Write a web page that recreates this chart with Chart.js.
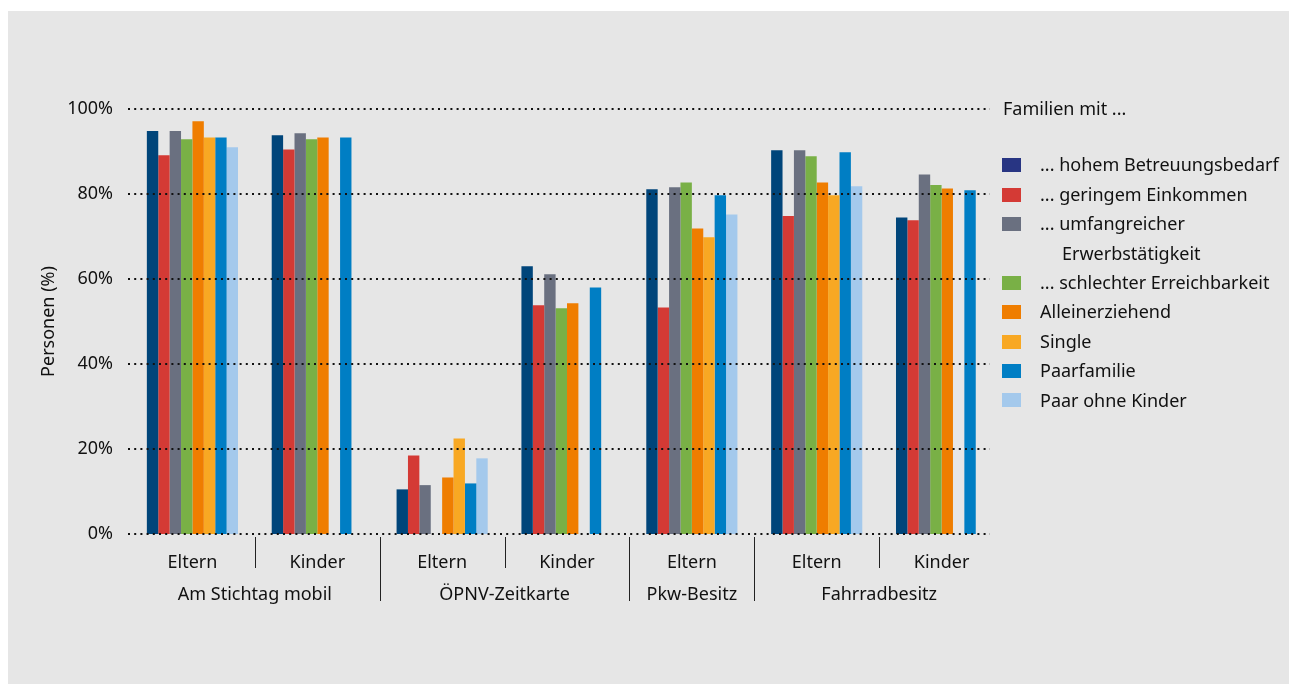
<!DOCTYPE html>
<html lang="de">
<head>
<meta charset="utf-8">
<title>Mobilität von Familien</title>
<script src="https://cdn.jsdelivr.net/npm/chart.js@4.4.1/dist/chart.umd.min.js"></script>
<style>
    html, body { margin: 0; padding: 0; background: #fff; }
    body { width: 1289px; height: 684px; position: relative; overflow: hidden; font-family: "Noto Sans", sans-serif; color: #111; }
    .panel { position: absolute; left: 8px; top: 11px; right: 0; bottom: 0; background: #e6e6e6; }
    .chart-box { position: absolute; left: 0; top: 0; width: 1289px; height: 684px; }
    .legend { position: absolute; left: 1002px; top: 94px; font-size: 18px; line-height: 29.4px; }
    .legend .title { margin: 0 0 27px 1px; }
    .legend ul { list-style: none; margin: 0; padding: 0; }
    .legend li { position: relative; padding-left: 38px; white-space: nowrap; }
    .legend .box { position: absolute; left: 0; top: 7.7px; width: 19px; height: 14px; }
    .legend .more { display: block; padding-left: 22px; }
</style>
</head>
<body>
<div class="panel"></div>
<div class="chart-box"><canvas id="mobilChart"></canvas></div>
<div class="legend">
    <div class="title">Familien mit ...</div>
    <ul id="legendList"></ul>
</div>
<script>
// Kategorien (untere Achse) und Gruppen darunter
const categories = ["Eltern", "Kinder", "Eltern", "Kinder", "Eltern", "Eltern", "Kinder"];
const groupLabels = ["Am Stichtag mobil", "ÖPNV-Zeitkarte", "Pkw-Besitz", "Fahrradbesitz"];
const groupSizes = [2, 2, 1, 2];

// Werte in Prozent, null = kein Balken
const betreuung = [94.8, 93.8, 10.5, 63.0, 81.1, 90.3, 74.5];
const einkommen = [89.1, 90.5, 18.5, 53.8, 53.3, 74.8, 73.8];
const erwerb = [94.8, 94.3, 11.5, 61.1, 81.6, 90.3, 84.6];
const erreichbarkeit = [92.9, 92.9, null, 53.1, 82.7, 88.9, 82.1];
const alleinerziehend = [97.1, 93.3, 13.3, 54.3, 71.9, 82.7, 81.3];
const single = [93.3, null, 22.5, null, 69.8, 79.7, null];
const paarfamilie = [93.3, 93.3, 11.9, 58.0, 79.7, 89.8, 80.9];
const paarOhneKinder = [91.0, null, 17.8, null, 75.2, 81.8, null];

const seriesLabels = [
    ["... hohem Betreuungsbedarf"],
    ["... geringem Einkommen"],
    ["... umfangreicher", "Erwerbstätigkeit"],
    ["... schlechter Erreichbarkeit"],
    ["Alleinerziehend"],
    ["Single"],
    ["Paarfamilie"],
    ["Paar ohne Kinder"]
];
const seriesValues = [betreuung, einkommen, erwerb, erreichbarkeit, alleinerziehend, single, paarfamilie, paarOhneKinder];
const barColors = ["#00457a", "#d43a35", "#6a7080", "#79b046", "#ef7d00", "#f8a823", "#007ec4", "#a4c9ec"];
const legendColors = ["#283583", "#d43a35", "#6a7080", "#79b046", "#ef7d00", "#f8a823", "#007ec4", "#a4c9ec"];

const yMin = 0;
const yMax = 100;
const yStep = 20;

const textColor = "#111";
const fontFamily = "'Noto Sans', sans-serif";

Chart.defaults.font.family = fontFamily;
Chart.defaults.font.size = 18;
Chart.defaults.color = textColor;

// Legende als HTML
const legendList = document.getElementById("legendList");
seriesLabels.forEach(function (lines, i) {
    const li = document.createElement("li");
    const box = document.createElement("span");
    box.className = "box";
    box.style.background = legendColors[i];
    li.appendChild(box);
    li.appendChild(document.createTextNode(lines[0]));
    if (lines.length > 1) {
        const more = document.createElement("span");
        more.className = "more";
        more.textContent = lines[1];
        li.appendChild(more);
    }
    legendList.appendChild(li);
});

// gepunktete Linien, Trennstriche und Gruppenbeschriftung
const axisDecor = {
    id: "axisDecor",
    afterDatasetsDraw(chart) {
        const { ctx, chartArea, scales } = chart;
        const x = scales.x;
        const y = scales.y;

        ctx.save();
        ctx.strokeStyle = "#111";
        ctx.lineWidth = 2;
        ctx.setLineDash([2, 4.2]);
        y.ticks.forEach(function (tick) {
            const py = Math.round(y.getPixelForValue(tick.value));
            ctx.beginPath();
            ctx.moveTo(chartArea.left - 2, py);
            ctx.lineTo(x.right - 14, py);
            ctx.stroke();
        });
        ctx.restore();
    },
    afterDraw(chart) {
        const { ctx, chartArea, scales } = chart;
        const x = scales.x;
        const top = chartArea.bottom + 3;

        const boundaries = [];
        let acc = 0;
        groupSizes.forEach(function (size) {
            acc += size;
            boundaries.push(acc);
        });

        ctx.save();
        ctx.strokeStyle = "#222";
        ctx.lineWidth = 1;
        for (let i = 1; i < categories.length; i++) {
            const px = Math.round((x.getPixelForValue(i - 1) + x.getPixelForValue(i)) / 2) + 0.5;
            const isGroupEdge = boundaries.indexOf(i) !== -1;
            ctx.beginPath();
            ctx.moveTo(px, top);
            ctx.lineTo(px, isGroupEdge ? top + 64 : top + 31);
            ctx.stroke();
        }

        ctx.fillStyle = textColor;
        ctx.font = "18px " + fontFamily;
        ctx.textAlign = "center";
        ctx.textBaseline = "middle";
        let start = 0;
        groupLabels.forEach(function (label, g) {
            const end = start + groupSizes[g] - 1;
            const cx = (x.getPixelForValue(start) + x.getPixelForValue(end)) / 2;
            ctx.fillText(label, cx, chartArea.bottom + 61);
            start = end + 1;
        });
        ctx.restore();
    }
};

new Chart(document.getElementById("mobilChart"), {
    type: "bar",
    data: {
        labels: categories,
        datasets: seriesValues.map(function (values, i) {
            return {
                label: seriesLabels[i].join(" "),
                data: values,
                backgroundColor: barColors[i],
                borderWidth: 0
            };
        })
    },
    options: {
        responsive: true,
        maintainAspectRatio: false,
        animation: false,
        layout: { padding: { left: 38, top: 109, right: 285, bottom: 40 } },
        datasets: {
            bar: { barPercentage: 1, categoryPercentage: 0.73 }
        },
        plugins: {
            legend: { display: false },
            tooltip: { enabled: false }
        },
        scales: {
            x: {
                grid: { display: false },
                border: { display: false },
                ticks: { padding: 10, color: textColor },
                afterFit: function (scale) { scale.height = 110; }
            },
            y: {
                min: yMin,
                max: yMax,
                grid: { display: false },
                border: { display: false },
                ticks: {
                    stepSize: yStep,
                    padding: 9,
                    color: textColor,
                    callback: function (value) { return value + "%"; }
                },
                title: { display: true, text: "Personen (%)", color: textColor, padding: 0 },
                afterFit: function (scale) { scale.width = 92; }
            }
        }
    },
    plugins: [axisDecor]
});
</script>
</body>
</html>
